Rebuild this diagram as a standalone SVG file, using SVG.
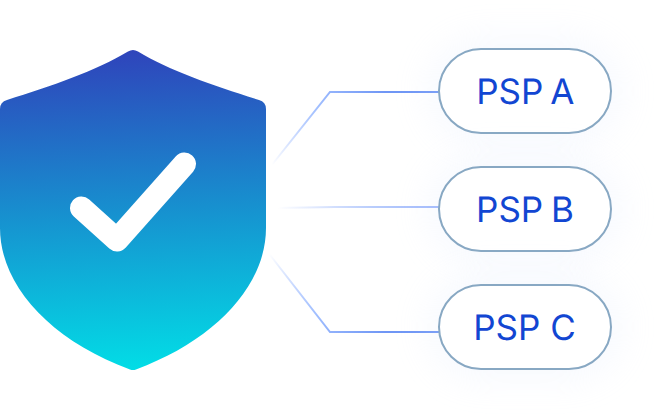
<svg xmlns="http://www.w3.org/2000/svg" width="660" height="418" viewBox="0 0 660 418">
<style>
.pill{fill:#fff;stroke:#88a8c3;stroke-width:2}
.glow{fill:#d6e2fb;opacity:.2;filter:url(#blur)}
.lbl{font-family:Inter,"Liberation Sans",sans-serif;font-size:35px;fill:#1246d2;text-anchor:middle;text-rendering:geometricPrecision}
.conn{fill:none;stroke-width:2}
</style>
<defs>
<linearGradient id="sh" gradientUnits="userSpaceOnUse" x1="125" y1="50" x2="140" y2="370"><stop offset="0" stop-color="#2f44bb"/><stop offset=".5" stop-color="#1790cf"/><stop offset="1" stop-color="#02dde6"/></linearGradient>
<linearGradient id="ca" gradientUnits="userSpaceOnUse" x1="272" y1="165" x2="385" y2="92"><stop offset="0" stop-color="#8fb0ff" stop-opacity="0"/><stop offset=".5" stop-color="#a3c0ff"/><stop offset="1" stop-color="#6f96f5"/></linearGradient>
<linearGradient id="cb" gradientUnits="userSpaceOnUse" x1="278" y1="208" x2="439" y2="207"><stop offset="0" stop-color="#a8c0fc" stop-opacity="0"/><stop offset=".6" stop-color="#b8ccfc"/><stop offset="1" stop-color="#a0b8fc"/></linearGradient>
<linearGradient id="cc" gradientUnits="userSpaceOnUse" x1="270" y1="253" x2="385" y2="332"><stop offset="0" stop-color="#8fb0ff" stop-opacity="0"/><stop offset=".5" stop-color="#a3c0ff"/><stop offset="1" stop-color="#6f96f5"/></linearGradient>
<filter id="blur" x="-30%" y="-60%" width="160%" height="220%"><feGaussianBlur stdDeviation="18"/></filter>
</defs>
<rect width="660" height="418" fill="#fff"/>
<g id="connectors">
<path class="conn" stroke="url(#ca)" d="M271 166L330 92H439"/>
<path class="conn" stroke="url(#cb)" d="M278 208Q320 207 335 207H439"/>
<path class="conn" stroke="url(#cc)" d="M270 255L330 332H439"/>
</g>
<g id="shield">
<path fill="url(#sh)" d="M128 51.500Q133 48.500 138 51.500C170 71 215 86 259 100Q266 102 266 109V228C266 285 216 340 136 369.500Q133 370.500 130 369.500C50 340 0 285 0 228V109Q0 102 7 100C51 86 96 71 128 51.500Z"/>
<path fill="none" stroke="#fff" stroke-width="23" stroke-linecap="round" stroke-linejoin="round" d="M81.500 208L117 240L184.500 164"/>
</g>
<g id="psp-a"><rect class="glow" x="429" y="39" width="192" height="104" rx="52"/><rect class="pill" x="439" y="49" width="172" height="84" rx="42"/><text class="lbl" x="525.300" y="104" word-spacing="-3">PSP A</text></g>
<g id="psp-b"><rect class="glow" x="429" y="157" width="192" height="104" rx="52"/><rect class="pill" x="439" y="167" width="172" height="84" rx="42"/><text class="lbl" x="525" y="222" word-spacing="-2">PSP B</text></g>
<g id="psp-c"><rect class="glow" x="429" y="275" width="192" height="104" rx="52"/><rect class="pill" x="439" y="285" width="172" height="84" rx="42"/><text class="lbl" x="524.500" y="340">PSP C</text></g>
</svg>
